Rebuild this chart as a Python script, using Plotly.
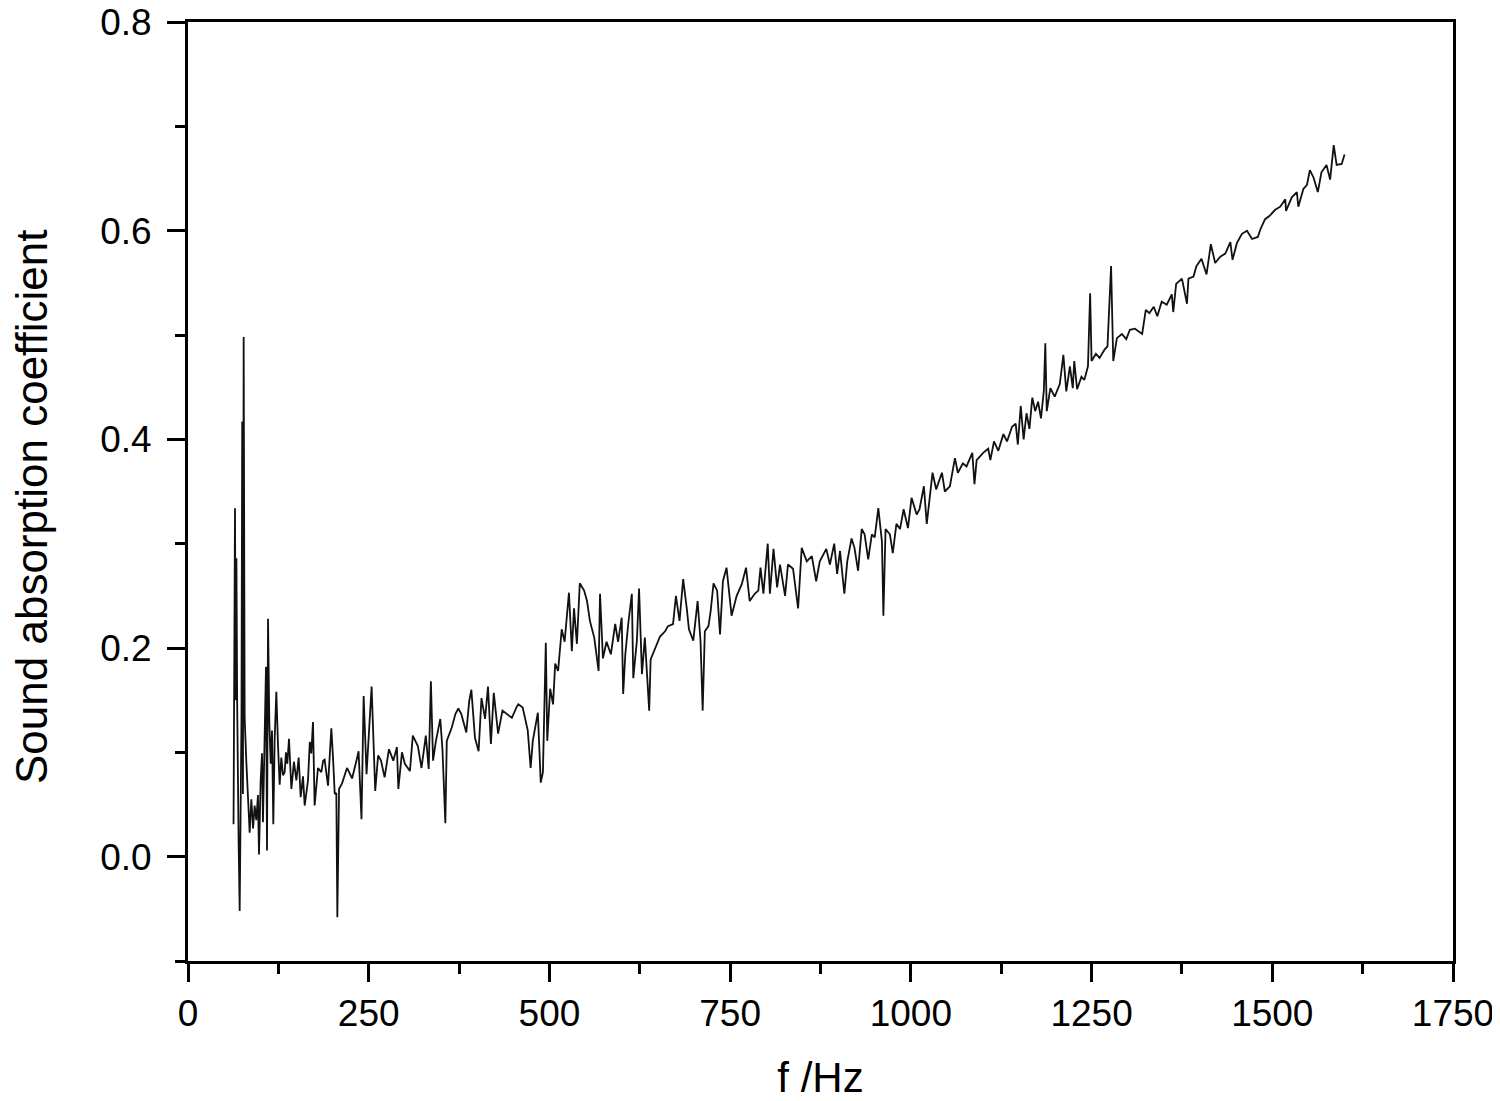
import plotly.graph_objects as go

# frequency (Hz) and absorption coefficient
freq = [
    63, 64, 65, 66, 67, 68, 69, 70, 71.5, 73, 74, 75, 76, 77, 78.4, 80.7, 83, 85.3, 87.6, 90,
    92.2, 94.5, 96.8, 98.2, 100.5, 102.4, 103.7, 106, 107.9, 109.3, 110.7, 112.5, 114.4, 116.2, 118, 119.9,
    122.2, 124.5, 126.8, 129.1, 131.4, 133.7, 135.5, 137.4, 139.7, 143, 146.6, 149.9, 153.1, 155.9, 159.1,
    161.4, 166, 168.5, 170.6, 172.9, 175.2, 179.8, 184.4, 187, 189, 193.7, 198.3, 200.6, 203, 205.2, 206.6,
    209, 213, 220, 227, 233, 236, 240, 243, 247, 254, 259, 263, 267, 272, 278, 284, 289, 291, 296, 300,
    307, 311, 318, 323, 329, 333, 336, 339, 343, 349, 352, 356, 358, 365, 370, 374, 378, 385, 389, 392,
    397, 402, 406, 411, 415, 419, 423, 429, 435, 440, 448, 455, 457, 463, 470, 474, 477, 484, 488, 491,
    495, 497, 501, 505, 508, 512, 517, 521, 527, 531, 534, 538, 542, 548, 552, 556, 562, 568, 570, 574,
    579, 585, 591, 595, 600, 602, 605, 609, 614, 616, 621, 624, 628, 632, 638, 640, 645, 653, 660, 664,
    671, 675, 680, 685, 690, 693, 699, 705, 709, 712, 715, 720, 723, 727, 732, 736, 740, 745, 752, 759,
    766, 772, 777, 784, 789, 792, 796, 802, 805, 810, 815, 819, 826, 830, 837, 844, 849, 856, 863, 869,
    874, 883, 888, 894, 898, 902, 908, 912, 918, 922, 927, 932, 936, 941, 946, 950, 955, 960, 962, 965,
    971, 975, 980, 985, 990, 996, 1001, 1008, 1012, 1018, 1022, 1026, 1030, 1035, 1043, 1047, 1054, 1061, 1065, 1072,
    1077, 1085, 1088, 1091, 1100, 1107, 1110, 1115, 1121, 1128, 1133, 1140, 1145, 1148, 1152, 1156, 1160, 1164, 1168, 1172,
    1176, 1180, 1184, 1186, 1188, 1193, 1199, 1206, 1211, 1215, 1220, 1224, 1226, 1230, 1236, 1240, 1245, 1248, 1250, 1256,
    1261, 1268, 1272, 1277, 1280, 1285, 1292, 1298, 1303, 1310, 1320, 1325, 1330, 1336, 1341, 1347, 1354, 1361, 1363, 1367,
    1375, 1382, 1384, 1391, 1395, 1402, 1409, 1415, 1421, 1428, 1435, 1442, 1445, 1451, 1458, 1465, 1472, 1480, 1484, 1490,
    1496, 1504, 1511, 1518, 1519, 1527, 1534, 1536, 1543, 1548, 1552, 1557, 1563, 1568, 1575, 1580, 1585, 1589, 1596, 1600,
]
alpha = [
    0.031, 0.155, 0.334, 0.150, 0.286, 0.150, 0.020, 0.015, -0.052, 0.030, 0.133, 0.417, 0.060, 0.498, 0.133, 0.091, 0.057, 0.023, 0.055, 0.027,
    0.049, 0.035, 0.059, 0.002, 0.073, 0.099, 0.033, 0.121, 0.182, 0.006, 0.228, 0.129, 0.089, 0.121, 0.031, 0.113,
    0.158, 0.107, 0.069, 0.095, 0.078, 0.081, 0.100, 0.089, 0.113, 0.065, 0.091, 0.073, 0.095, 0.057, 0.077,
    0.049, 0.073, 0.110, 0.099, 0.129, 0.049, 0.085, 0.081, 0.092, 0.093, 0.068, 0.123, 0.095, 0.060, 0.061, -0.058,
    0.065, 0.070, 0.085, 0.075, 0.092, 0.101, 0.036, 0.154, 0.079, 0.163, 0.063, 0.097, 0.092, 0.076, 0.103, 0.092, 0.105, 0.065, 0.100, 0.089,
    0.082, 0.116, 0.106, 0.085, 0.116, 0.084, 0.168, 0.092, 0.111, 0.132, 0.103, 0.032, 0.111, 0.124, 0.137, 0.142, 0.137, 0.119, 0.149, 0.160,
    0.114, 0.101, 0.152, 0.132, 0.163, 0.108, 0.157, 0.118, 0.140, 0.137, 0.133, 0.144, 0.146, 0.143, 0.121, 0.085, 0.111, 0.138, 0.071, 0.081,
    0.205, 0.111, 0.161, 0.146, 0.185, 0.178, 0.218, 0.206, 0.253, 0.197, 0.238, 0.204, 0.262, 0.255, 0.245, 0.226, 0.210, 0.178, 0.252, 0.190,
    0.206, 0.194, 0.223, 0.206, 0.229, 0.156, 0.194, 0.223, 0.252, 0.171, 0.207, 0.257, 0.175, 0.210, 0.140, 0.189, 0.197, 0.211, 0.216, 0.221,
    0.223, 0.250, 0.226, 0.266, 0.238, 0.218, 0.207, 0.245, 0.207, 0.140, 0.216, 0.221, 0.235, 0.262, 0.255, 0.213, 0.264, 0.277, 0.231, 0.250,
    0.261, 0.277, 0.245, 0.252, 0.255, 0.277, 0.252, 0.300, 0.252, 0.295, 0.258, 0.280, 0.250, 0.280, 0.276, 0.238, 0.296, 0.283, 0.288, 0.264,
    0.283, 0.295, 0.280, 0.300, 0.271, 0.293, 0.252, 0.283, 0.305, 0.296, 0.274, 0.314, 0.309, 0.285, 0.309, 0.306, 0.334, 0.302, 0.231, 0.314,
    0.309, 0.291, 0.319, 0.314, 0.333, 0.315, 0.344, 0.328, 0.333, 0.355, 0.319, 0.344, 0.368, 0.352, 0.368, 0.350, 0.355, 0.382, 0.368, 0.377,
    0.374, 0.387, 0.357, 0.380, 0.387, 0.391, 0.380, 0.398, 0.389, 0.405, 0.398, 0.412, 0.415, 0.395, 0.432, 0.400, 0.425, 0.410, 0.440, 0.427,
    0.436, 0.420, 0.447, 0.492, 0.427, 0.449, 0.441, 0.453, 0.481, 0.446, 0.470, 0.449, 0.475, 0.448, 0.460, 0.457, 0.470, 0.540, 0.475, 0.482,
    0.478, 0.486, 0.489, 0.566, 0.475, 0.497, 0.501, 0.496, 0.505, 0.506, 0.501, 0.524, 0.521, 0.527, 0.518, 0.532, 0.529, 0.539, 0.522, 0.549,
    0.554, 0.530, 0.554, 0.556, 0.566, 0.573, 0.558, 0.587, 0.569, 0.575, 0.578, 0.589, 0.572, 0.588, 0.597, 0.600, 0.592, 0.594, 0.602, 0.611,
    0.614, 0.620, 0.623, 0.630, 0.619, 0.632, 0.637, 0.623, 0.640, 0.644, 0.658, 0.651, 0.637, 0.656, 0.663, 0.649, 0.682, 0.663, 0.664, 0.673,
]

x_ticks = [0, 250, 500, 750, 1000, 1250, 1500, 1750]
y_ticks = [0.0, 0.2, 0.4, 0.6, 0.8]

fig = go.Figure()
fig.add_trace(go.Scatter(
    x=freq, y=alpha, mode="lines",
    line=dict(color="#111111", width=1.8),
    showlegend=False,
))

axis_font = dict(family="Liberation Sans, Arial, sans-serif", size=37, color="black")
title_font = dict(family="Liberation Sans, Arial, sans-serif", size=42, color="black")

# the page body adds an 8px offset, margins are shifted to compensate
fig.update_layout(
    width=1492, height=1093,
    margin=dict(l=180, r=47, t=14, b=140),
    plot_bgcolor="white", paper_bgcolor="white",
    xaxis=dict(
        range=[0, 1750], tickvals=x_ticks, ticks="outside", ticklen=18, tickwidth=3,
        tickcolor="black", showline=True, linewidth=3, linecolor="black", mirror=True,
        showgrid=False, zeroline=False, tickfont=axis_font, automargin=False,
        ticklabeloverflow="allow",
        minor=dict(dtick=125, tick0=0, ticks="outside", ticklen=10, tickwidth=3, tickcolor="black", showgrid=False),
        title=dict(text="f /Hz", font=title_font, standoff=34),
    ),
    yaxis=dict(
        range=[-0.1, 0.8], tickvals=y_ticks, tickformat=".1f", ticks="outside", ticklen=18, tickwidth=3,
        tickcolor="black", showline=True, linewidth=3, linecolor="black", mirror=True,
        showgrid=False, zeroline=False, tickfont=axis_font, automargin=False,
        ticklabeloverflow="allow", ticklabelstandoff=8,
        minor=dict(dtick=0.1, tick0=-0.1, ticks="outside", ticklen=10, tickwidth=3, tickcolor="black", showgrid=False),
    ),
)

# y title as an annotation so it can sit closer to the page edge
fig.add_annotation(
    text="Sound absorption coefficient", textangle=-90,
    xref="paper", yref="paper", x=0, y=0.4835, xanchor="center", yanchor="middle",
    xshift=-156, showarrow=False,
    font=dict(family="Liberation Sans, Arial, sans-serif", size=44, color="black"),
)

fig.write_html("out.html")
